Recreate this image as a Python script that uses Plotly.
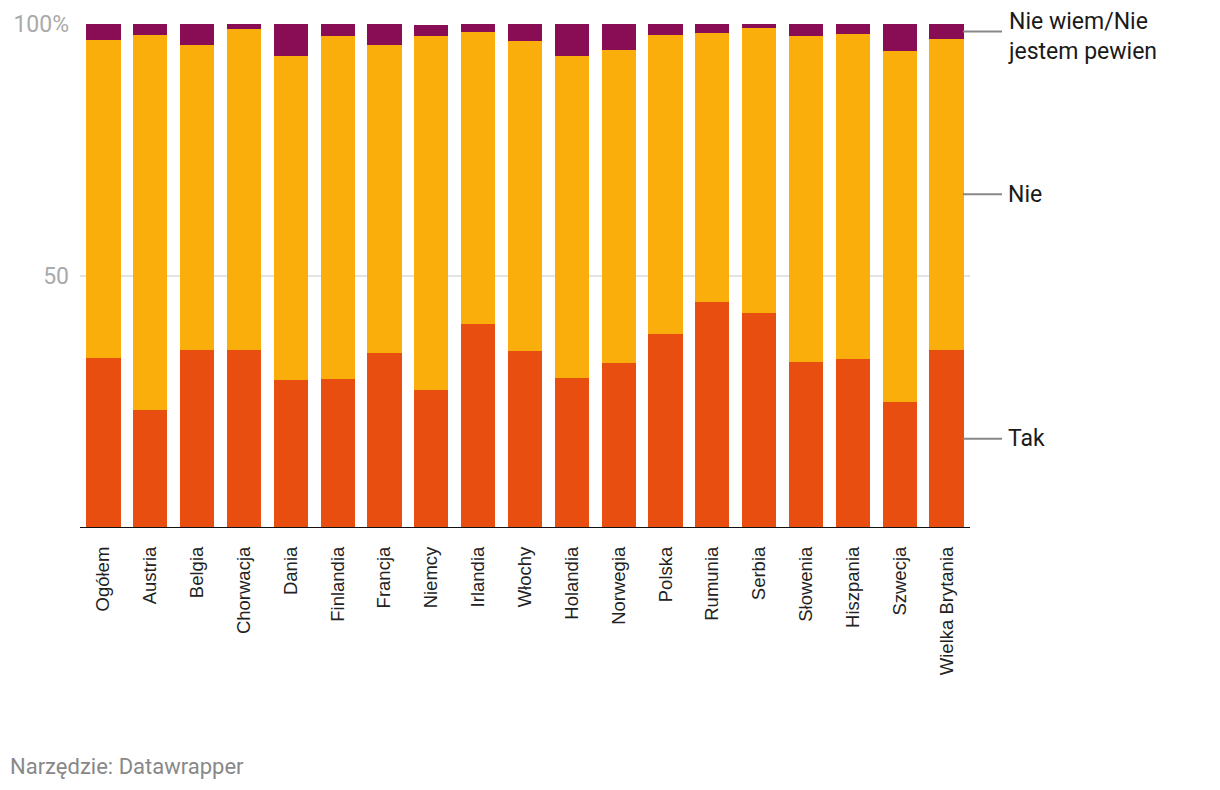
import plotly.graph_objects as go

categories = ["Ogółem", "Austria", "Belgia", "Chorwacja", "Dania", "Finlandia", "Francja",
              "Niemcy", "Irlandia", "Włochy", "Holandia", "Norwegia", "Polska", "Rumunia",
              "Serbia", "Słowenia", "Hiszpania", "Szwecja", "Wielka Brytania"]
tak = [33.7, 23.4, 35.4, 35.4, 29.3, 29.5, 34.7, 27.3, 40.4, 35.2, 29.7, 32.7, 38.4, 44.8,
       42.6, 32.9, 33.5, 25.0, 35.4]
nie = [63.1, 74.4, 60.4, 63.6, 64.4, 68.1, 61.1, 70.3, 58.0, 61.4, 64.0, 62.1, 59.4, 53.4,
       56.6, 64.7, 64.5, 69.6, 61.6]
nie_wiem = [3.2, 2.2, 4.2, 1.0, 6.5, 2.6, 4.2, 2.2, 1.6, 3.4, 6.5, 5.4, 2.2, 1.8,
            0.8, 2.6, 2.0, 5.4, 3.0]

series = [
    ("Tak", tak, "#e84e0f"),
    ("Nie", nie, "#f9ae0b"),
    ("Nie wiem/Nie<br>jestem pewien", nie_wiem, "#880d55"),
]

FONT = "Roboto, Arial, sans-serif"
TICKFONT = "Arial, 'Liberation Sans', sans-serif"

fig = go.Figure()
for name, vals, color in series:
    fig.add_trace(go.Bar(x=categories, y=vals, name=name, marker_color=color,
                         marker_line_width=0, hoverinfo="x+y"))

# right-side labels at midpoints of the last bar's segments
annotations = []
shapes = []
base = 0.0
for i, (name, vals, color) in enumerate(series):
    mid = base + vals[-1] / 2
    base += vals[-1]
    shapes.append(dict(type="line", xref="paper", yref="y", x0=0.992, x1=1.036,
                       y0=mid, y1=mid, line=dict(color="#888888", width=2)))
    annotations.append(dict(xref="paper", yref="y", x=1.041, y=mid, text=name,
                            showarrow=False, xanchor="left", yanchor="middle", align="left",
                            yshift=-5 if i == 2 else 0,
                            font=dict(family=FONT, size=23, color="#1a1a1a")))

shapes.append(dict(type="line", xref="paper", yref="y", x0=0, x1=1, y0=0, y1=0,
                   line=dict(color="#111111", width=2), layer="above"))

annotations.append(dict(xref="paper", yref="paper", x=-0.081, y=-0.474,
                        xanchor="left", yanchor="middle", showarrow=False,
                        text="Narzędzie: Datawrapper",
                        font=dict(family=FONT, size=22, color="#888888")))

fig.update_layout(
    barmode="stack",
    bargap=0.27,
    width=1204, height=774,
    margin=dict(l=72, r=242, t=16, b=254, autoexpand=False),
    paper_bgcolor="white", plot_bgcolor="white",
    showlegend=False,
    font=dict(family=FONT),
    shapes=shapes,
    annotations=annotations,
    xaxis=dict(tickangle=-90, tickfont=dict(family=TICKFONT, size=18.5, color="#222222"),
               showgrid=False, ticks="", ticklabelstandoff=14, range=[-0.5, 18.5],
               automargin=False),
    yaxis=dict(range=[0, 100], tickvals=[50, 100], ticktext=["50", "100%"],
               tickfont=dict(family=FONT, size=23, color="#aaaaaa"),
               showgrid=True, gridcolor="#e3e3e3", gridwidth=1.5, zeroline=False,
               ticks="", ticklabelstandoff=10, automargin=False),
)

fig.write_html("out.html")
